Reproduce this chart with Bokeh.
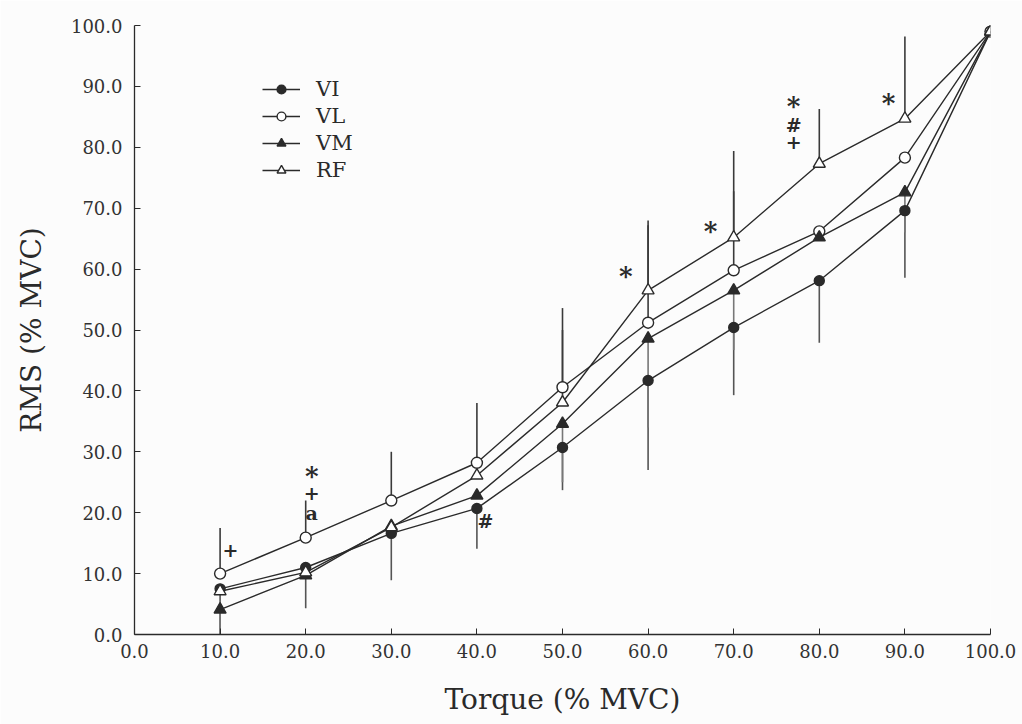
import numpy as np
from bokeh.plotting import figure
from bokeh.models import (ColumnDataSource, FixedTicker, PrintfTickFormatter,
                          Range1d, Legend, LegendItem)
from bokeh.core.properties import value
from bokeh.embed import file_html
from bokeh.resources import INLINE

# ---------------- data ----------------
torque = [10, 20, 30, 40, 50, 60, 70, 80, 90, 100]
vi = [7.5, 11.0, 16.6, 20.7, 30.7, 41.7, 50.4, 58.1, 69.6, 99.0]
vl = [10.0, 15.9, 22.0, 28.2, 40.6, 51.2, 59.8, 66.2, 78.3, 99.0]
vm = [4.1, 9.7, 17.8, 22.8, 34.6, 48.6, 56.5, 65.2, 72.6, 99.0]
rf = [7.1, 10.2, 17.6, 26.1, 38.1, 56.5, 65.2, 77.3, 84.7, 99.0]

# standard deviations drawn as one-sided bars (nan = not drawn)
nan = float("nan")
vl_sd_up = [7.5, 6.1, 8.0, 9.8, 9.4, 16.0, 13.0, nan, nan, nan]
rf_sd_up = [nan, nan, nan, nan, 15.5, 11.5, 14.2, 9.0, 13.5, nan]
vi_sd_down = [7.5, 6.7, 7.7, 6.6, 7.0, 14.7, 11.1, 10.2, 11.0, nan]
vm_sd_down = [4.0, nan, nan, nan, 9.6, 14.6, 9.8, nan, 6.6, nan]

# significance marks
sig_x = [11.2, 20.7, 20.7, 20.7, 41.0, 57.4, 67.3, 77.0, 77.0, 77.0, 88.1]
sig_y = [13.8, 26.1, 23.2, 19.9, 18.7, 58.9, 66.3, 86.8, 83.7, 80.8, 87.3]
sig_text = ["+", "*", "+", "a", "#", "*", "*", "*", "#", "+", "*"]

x_ticks = [0, 10, 20, 30, 40, 50, 60, 70, 80, 90, 100]
y_ticks = [0, 10, 20, 30, 40, 50, 60, 70, 80, 90, 100]

SERIF = "DejaVu Serif"
INK = "#2a2a2a"
BG = "#fcfcfc"

p = figure(width=1022, height=724, output_backend="svg", toolbar_location=None,
           x_range=Range1d(0, 100), y_range=Range1d(0, 100),
           min_border_left=134, min_border_right=32, min_border_top=25,
           min_border_bottom=90, background_fill_color=BG, border_fill_color=BG)
p.outline_line_color = None
p.xgrid.visible = False
p.ygrid.visible = False

# ---------------- error bars ----------------
xs = np.array(torque, dtype=float)
def bars(vals, sd, sign, color):
    v = np.array(vals, dtype=float)
    s = np.array(sd, dtype=float)
    m = ~np.isnan(s)
    src = ColumnDataSource(dict(x=xs[m], y0=v[m], y1=v[m] + sign * s[m]))
    p.segment(x0="x", y0="y0", x1="x", y1="y1", source=src,
              line_color=color, line_width=1.6)

bars(vl, vl_sd_up, 1, "#3a3a3a")
bars(rf, rf_sd_up, 1, "#3a3a3a")
bars(vi, vi_sd_down, -1, "#555555")
bars(vm, vm_sd_down, -1, "#777777")

# ---------------- series ----------------
series = [
    ("VI", vi, "circle", INK, 10),
    ("VL", vl, "circle", "white", 11),
    ("VM", vm, "triangle", INK, 12),
    ("RF", rf, "triangle", "white", 12),
]
items = []
for name, vals, marker, fill, size in series:
    src = ColumnDataSource(dict(x=torque, y=vals))
    ln = p.line("x", "y", source=src, line_color=INK, line_width=1.4)
    sc = p.scatter("x", "y", source=src, marker=marker, size=size,
                   fill_color=fill, line_color=INK, line_width=1.4)
    items.append(LegendItem(label=name, renderers=[ln, sc]))

legend = Legend(items=items, location=(128, 452), orientation="vertical",
                label_text_font=SERIF, label_text_font_size="21px",
                label_text_color=INK, glyph_width=38, glyph_height=22,
                label_height=22, spacing=3, padding=0, margin=0,
                label_standoff=16, border_line_color=None,
                background_fill_alpha=0)
p.add_layout(legend)

# ---------------- significance marks ----------------
sig_size = ["26px" if t == "*" else "19px" for t in sig_text]
sig_src = ColumnDataSource(dict(x=sig_x, y=sig_y, t=sig_text, s=sig_size))
p.text(x="x", y="y", text="t", source=sig_src, text_font=value(SERIF),
       text_font_size="s", text_font_style="bold", text_color=INK,
       text_align="center", text_baseline="middle")

# ---------------- axes ----------------
for ax, ticks in ((p.xaxis[0], x_ticks), (p.yaxis[0], y_ticks)):
    ax.ticker = FixedTicker(ticks=ticks)
    ax.formatter = PrintfTickFormatter(format="%.1f")
    ax.minor_tick_line_color = None
    ax.major_tick_in = 6
    ax.major_tick_out = 0
    ax.major_tick_line_color = INK
    ax.axis_line_color = INK
    ax.axis_line_width = 1.3
    ax.major_label_text_font = SERIF
    ax.major_label_text_font_size = "18px"
    ax.major_label_text_color = "#333333"
    ax.axis_label_text_font = SERIF
    ax.axis_label_text_font_size = "28px"
    ax.axis_label_text_font_style = "normal"
    ax.axis_label_text_color = INK

p.xaxis.axis_label = "Torque (% MVC)"
p.yaxis.axis_label = "RMS (% MVC)"
p.xaxis.major_label_standoff = 9
p.yaxis.major_label_standoff = 12
p.xaxis.axis_label_standoff = 22
p.yaxis.axis_label_standoff = 20

open("out.html", "w").write(file_html(p, INLINE))
